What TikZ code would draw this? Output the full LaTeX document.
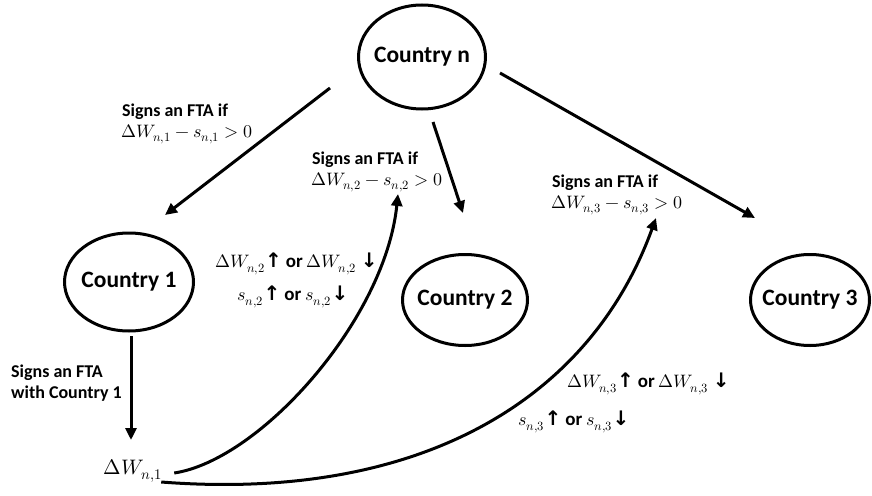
\documentclass[tikz,border=0pt]{standalone}
\usepackage{fontspec}
\usepackage{unicode-math}
\setmainfont{Carlito}
\setmathfont{Latin Modern Math}
\newfontfamily\arrfont{DejaVu Sans}
\usetikzlibrary{shapes.geometric,arrows.meta}
\newcommand{\upa}{{\arrfont\bfseries\fontsize{20}{20}\selectfont ↑}}
\newcommand{\dna}{{\arrfont\bfseries\fontsize{20}{20}\selectfont ↓}}
\newcommand{\orw}{{\fontsize{19}{21}\selectfont\bfseries or}}
\begin{document}
\begin{tikzpicture}[x=1pt,y=-1pt,
  country/.style={draw,ellipse,line width=3pt,inner sep=0pt},
  ctext/.style={inner sep=0pt,font=\fontsize{23.5}{26}\selectfont\bfseries},
  arr/.style={line width=3pt,-{Triangle[length=12pt,width=11pt]}},
  lbl/.style={anchor=west,inner sep=0pt,font=\fontsize{18}{21}\selectfont\bfseries,align=left},
  mlbl/.style={anchor=west,inner sep=0pt,font=\fontsize{18}{20}\selectfont}]
\useasboundingbox (0,0) rectangle (872,495);
\node[country,minimum width=127pt,minimum height=104pt] (cn) at (422,57) {};
\node[country,minimum width=129pt,minimum height=98pt] (c1) at (129,282) {};
\node[country,minimum width=125pt,minimum height=91pt] (c2) at (465,300) {};
\node[country,minimum width=119pt,minimum height=91pt] (c3) at (810,300) {};
\node[ctext] (tn) at (cn) {Country n};
\node[ctext] (t1) at (c1) {Country 1};
\node[ctext] (t2) at (c2) {Country 2};
\node[ctext] (t3) at (c3) {Country 3};
\node[anchor=center,inner sep=0pt,font=\fontsize{21}{24}\selectfont] (dw) at (133,471) {$\Delta W_{n,1}$};

\coordinate (a1s) at (330,88); \coordinate (a1e) at (165,215);
\coordinate (a2s) at (433,122); \coordinate (a2e) at (463,213);
\coordinate (a3s) at (500,73); \coordinate (a3e) at (755,218);
\coordinate (a4s) at (131,336); \coordinate (a4e) at (131,440);
\coordinate (b1e) at (398,194);
\coordinate (b2e) at (656,218);
\draw[arr] (a1s) -- (a1e);
\draw[arr] (a2s) -- (a2e);
\draw[arr] (a3s) -- (a3e);
\draw[arr] (a4s) -- (a4e);
\draw[arr] ([shift={(12,2)}]dw.east) .. controls (260,460) and (385,320) .. (b1e);
\draw[arr] ([shift={(-1,11)}]dw.east) .. controls (420,502) and (590,400) .. (b2e);

\node[lbl] (l1a) at (122,112) {Signs an FTA if};
\node[mlbl] (l1b) at (121,134) {$\Delta W_{n,1}-s_{n,1}>0$};
\node[lbl] (l2a) at (312,160) {Signs an FTA if};
\node[mlbl] (l2b) at (311,182) {$\Delta W_{n,2}-s_{n,2}>0$};
\node[lbl] (l3a) at (552,183) {Signs an FTA if};
\node[mlbl] (l3b) at (551,205) {$\Delta W_{n,3}-s_{n,3}>0$};
\node[lbl] (l4) at (11,383) {Signs an FTA\\with Country 1};
\node[mlbl] (m1) at (215,264) {$\Delta W_{n,2}$\upa{} \orw{} $\Delta W_{n,2}$ \dna};
\node[mlbl] (m2) at (237,297) {$s_{n,2}$\upa{} \orw{} $s_{n,2}$\dna};
\node[mlbl] (m3) at (567,384) {$\Delta W_{n,3}$\upa{} \orw{} $\Delta W_{n,3}$ \dna};
\node[mlbl] (m4) at (518,422) {$s_{n,3}$\upa{} \orw{} $s_{n,3}$\dna};
\end{tikzpicture}
\end{document}
